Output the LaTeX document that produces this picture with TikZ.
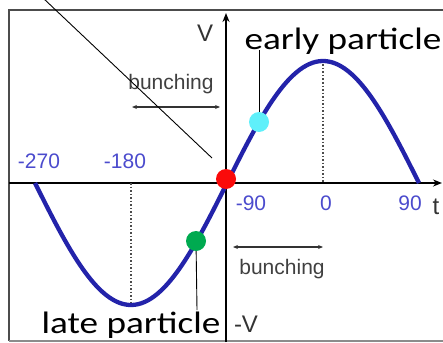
\documentclass[tikz,border=0pt]{standalone}
\usepackage{fontspec}
\usepackage{tikz}
\usetikzlibrary{arrows.meta}
\newfontfamily\calloutfont[FakeStretch=1.2]{Carlito}
\newfontfamily\axisfont{Liberation Sans}
\definecolor{waveBlue}{RGB}{35,35,170}
\definecolor{tickBlue}{RGB}{75,75,205}
\definecolor{dotRed}{RGB}{250,10,10}
\definecolor{dotCyan}{RGB}{95,240,250}
\definecolor{dotGreen}{RGB}{0,170,80}

\begin{document}
\begin{tikzpicture}[
  x=1pt, y=-1pt,
  every node/.style={inner sep=0pt},
  frameLine/.style={black!70, line width=1.8pt},
  axisLine/.style={black, line width=2.4pt, -{Stealth[length=9pt,width=7pt]}},
  wave/.style={waveBlue, line width=4.3pt, line join=round},
  peakGuide/.style={black!70, dotted, line width=1.5pt},
  tickLabel/.style={font=\axisfont\fontsize{21}{21}\selectfont, text=tickBlue, anchor=base},
  axisName/.style={font=\axisfont\fontsize{24}{24}\selectfont, text=black!80, anchor=base},
  bunchText/.style={font=\axisfont\fontsize{21}{21}\selectfont, text=black!75, anchor=base},
  bunchArrow/.style={black!80, line width=1.8pt,
    {Stealth[length=5pt,width=4pt]}-{Stealth[length=5pt,width=4pt]}},
  particle/.style={circle, minimum size=20pt},
  calloutText/.style={font=\calloutfont\fontsize{31}{31}\selectfont, anchor=base},
  leader/.style={black, line width=0.9pt}
]
\useasboundingbox (0,0) rectangle (443,342);

% Frame of the plot, cut off on the right.
\draw[frameLine] (443,10) -- (9,10) -- (9,341);
\draw[black!45, line width=1.2pt] (9,341) -- (443,341);

% Axes.
\draw[axisLine] (226,342) -- (226,13);
\draw[axisLine] (9,183) -- (442,183);

% Voltage wave and its extremes.
\draw[peakGuide] (323,61) -- (323,183);
\draw[peakGuide] (131,183) -- (131,305);
\draw[wave] plot[domain=35:419, samples=120, smooth]
  (\x, {183-122*sin((\x-227)/96*90)});

% Phase labels.
\node[tickLabel] (phM270) at (39,168) {-270};
\node[tickLabel] (phM180) at (125,168) {-180};
\node[tickLabel] (phM90) at (251,210) {-90};
\node[tickLabel] (ph0) at (326,210) {0};
\node[tickLabel] (ph90) at (410,210) {90};
\node[axisName] (tName) at (436,214) {t};
\node[axisName] (vPlus) at (205,42) {V};
\node[axisName] (vMinus) at (246,332) {-V};

% Bunching hints.
\node[bunchText] (bunchUp) at (171,89) {bunching};
\coordinate (bunchUpL) at (132,107);
\coordinate (bunchUpR) at (220,107);
\draw[bunchArrow] (bunchUpL) -- (bunchUpR);
\node[bunchText] (bunchLow) at (282,274) {bunching};
\coordinate (bunchLowL) at (233,247);
\coordinate (bunchLowR) at (323,247);
\draw[bunchArrow] (bunchLowL) -- (bunchLowR);

% Pointer to the synchronous particle.
\coordinate (pointerTop) at (43,-2);
\coordinate (pointerEnd) at (212,158);
\draw[leader] (pointerTop) -- (pointerEnd);

% Particles.
\node[particle, fill=dotCyan] (earlyDot) at (259,122) {};
\node[particle, fill=dotGreen] (lateDot) at (196,241) {};
\node[particle, fill=dotRed] (syncDot) at (226,179) {};

% Callouts.
\node[calloutText] (earlyLbl) at (343,50) {early particle};
\node[calloutText] (lateLbl) at (131,333) {late particle};
\coordinate (earlyTip) at (259,50);
\coordinate (lateTip) at (197,310);
\draw[leader] (earlyDot) -- (earlyTip);
\draw[leader] (lateDot) -- (lateTip);
\end{tikzpicture}
\end{document}
